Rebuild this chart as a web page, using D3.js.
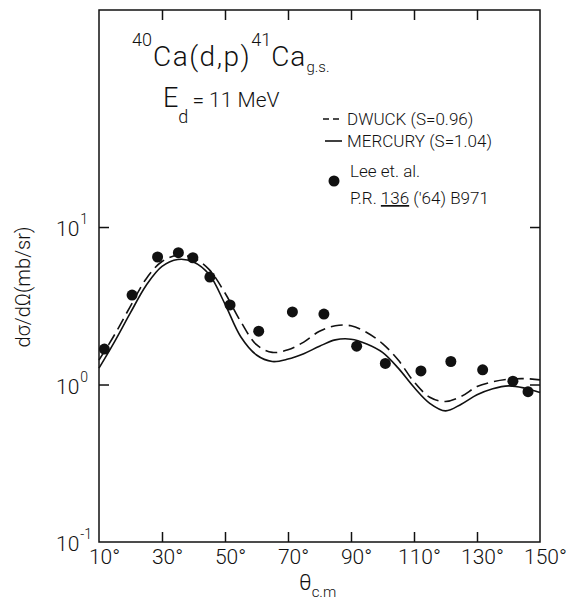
<!DOCTYPE html>
<html>
<head>
<meta charset="utf-8">
<script src="https://cdn.jsdelivr.net/npm/d3@7/dist/d3.min.js"></script>
<style>
  body { margin: 0; background: #fff; }
  svg text { font-family: Roboto, "DejaVu Sans", sans-serif; font-weight: 300; fill: #111; }
</style>
</head>
<body>
<div id="chart"></div>
<script>
// data: theta (deg c.m.) and dsigma/dOmega (mb/sr)
var expTheta = [11.7, 20.5, 28.6, 35.2, 39.8, 45.2, 51.6, 60.7, 71.4, 81.4, 91.8, 100.9, 112.2, 121.7, 131.8, 141.4, 146.2];
var expSigma = [1.68, 3.70, 6.45, 6.87, 6.38, 4.81, 3.20, 2.18, 2.89, 2.80, 1.75, 1.36, 1.22, 1.40, 1.24, 1.05, 0.90];

// calculated curves, read every 5 degrees
var curveTheta = [10, 15, 20, 25, 30, 35, 40, 45, 50, 55, 60, 65, 70, 75, 80, 85, 90, 95, 100, 105, 110, 115, 120, 125, 130, 135, 140, 145, 150];
var dwuckSigma = [1.43, 2.08, 3.15, 4.70, 6.04, 6.62, 6.36, 5.36, 3.81, 2.51, 1.79, 1.60, 1.66, 1.86, 2.18, 2.36, 2.36, 2.14, 1.82, 1.43, 1.04, 0.83, 0.78, 0.84, 0.97, 1.04, 1.08, 1.09, 1.07];
var mercSigma  = [1.27, 1.88, 2.86, 4.27, 5.62, 6.22, 6.00, 4.99, 3.24, 2.01, 1.54, 1.40, 1.45, 1.57, 1.75, 1.92, 1.94, 1.81, 1.60, 1.27, 0.96, 0.76, 0.68, 0.75, 0.86, 0.94, 0.98, 0.95, 0.89];

var xTicks = [10, 30, 50, 70, 90, 110, 130, 150];
var yTicks = [0.1, 1, 10];
var yTickExp = ["-1", "0", "1"];

var margin = {top: 10, right: 36, bottom: 59, left: 99},
    W = 576, H = 601;

var svg = d3.select("#chart").append("svg")
    .attr("width", W)
    .attr("height", H);

var x = d3.scaleLinear()
    .domain([10, 150])
    .range([margin.left, W - margin.right]);

var y = d3.scaleLog()
    .domain([0.1, Math.pow(10, 2.378)])
    .range([H - margin.bottom, margin.top]);

// frame
svg.append("rect")
    .attr("x", x(10))
    .attr("y", y.range()[1])
    .attr("width", x(150) - x(10))
    .attr("height", y.range()[0] - y.range()[1])
    .attr("fill", "none")
    .attr("stroke", "#111")
    .attr("stroke-width", 1.5);

// inner ticks, all four sides
var inner = xTicks.slice(1, -1);
svg.append("g")
    .attr("transform", "translate(0," + y.range()[0] + ")")
    .call(d3.axisBottom(x).tickValues(inner).tickSize(-10).tickFormat(""))
    .call(function(g) { g.select(".domain").remove(); });
svg.append("g")
    .attr("transform", "translate(0," + y.range()[1] + ")")
    .call(d3.axisTop(x).tickValues(inner).tickSize(-10).tickFormat(""))
    .call(function(g) { g.select(".domain").remove(); });
svg.append("g")
    .attr("transform", "translate(" + x(10) + ",0)")
    .call(d3.axisLeft(y).tickValues([1, 10]).tickSize(-10).tickFormat(""))
    .call(function(g) { g.select(".domain").remove(); });
svg.append("g")
    .attr("transform", "translate(" + x(150) + ",0)")
    .call(d3.axisRight(y).tickValues([1, 10]).tickSize(-10).tickFormat(""))
    .call(function(g) { g.select(".domain").remove(); });
svg.selectAll(".tick line").attr("stroke", "#111").attr("stroke-width", 1.5);

// x tick labels
var xl = svg.append("g")
    .attr("transform", "translate(0," + (y.range()[0] + 7) + ")")
    .call(d3.axisBottom(x).tickValues(xTicks).tickSize(0).tickPadding(0)
        .tickFormat(function(d) { return d + "\u00b0"; }));
xl.select(".domain").remove();
xl.selectAll("text")
    .attr("dx", 5)
    .style("font-size", "21px")
    .style("font-family", "Roboto, sans-serif")
    .style("font-weight", 300)
    .attr("fill", "#111");

// y tick labels: 10 with exponent
var yl = svg.append("g");
yTicks.forEach(function(v, i) {
  var t = yl.append("text")
      .attr("x", 56)
      .attr("y", y(v) + 9)
      .style("font-size", "21px");
  t.append("tspan").text("10");
  t.append("tspan")
      .attr("dy", -12)
      .attr("dx", 1)
      .style("font-size", "14px")
      .text(yTickExp[i]);
});

// axis titles
svg.append("text")
    .attr("transform", "translate(30,287) rotate(-90)")
    .attr("text-anchor", "middle")
    .style("font-size", "20px")
    .text("d\u03c3/d\u03a9(mb/sr)");

var xt = svg.append("text")
    .attr("x", 299)
    .attr("y", 590)
    .style("font-size", "22px");
xt.append("tspan").text("\u03b8");
xt.append("tspan").attr("dy", 7).style("font-size", "15px").text("c.m");

// curves
var line = d3.line()
    .x(function(d) { return x(d[0]); })
    .y(function(d) { return y(d[1]); })
    .curve(d3.curveCatmullRom.alpha(0.5));

svg.append("path")
    .datum(d3.zip(curveTheta, dwuckSigma))
    .attr("d", line)
    .attr("fill", "none")
    .attr("stroke", "#111")
    .attr("stroke-width", 1.6)
    .attr("stroke-dasharray", "12,6");

svg.append("path")
    .datum(d3.zip(curveTheta, mercSigma))
    .attr("d", line)
    .attr("fill", "none")
    .attr("stroke", "#111")
    .attr("stroke-width", 1.6);

// experimental points
svg.selectAll(".dot")
    .data(d3.zip(expTheta, expSigma))
    .enter().append("circle")
    .attr("class", "dot")
    .attr("cx", function(d) { return x(d[0]); })
    .attr("cy", function(d) { return y(d[1]); })
    .attr("r", 5.5)
    .attr("fill", "#111");

// reaction label
var title = svg.append("text")
    .attr("x", 132)
    .attr("y", 66)
    .style("font-size", "28px");
title.append("tspan").attr("dy", -20).style("font-size", "18px").text("40");
title.append("tspan").attr("dy", 20).attr("dx", 1).style("letter-spacing", "1.5px").text("Ca(d,p)");
title.append("tspan").attr("dy", -20).style("font-size", "18px").text("41");
title.append("tspan").attr("dy", 20).style("letter-spacing", "1px").text("Ca");
title.append("tspan").attr("dy", 6).style("font-size", "15px").text("g.s.");

var ed = svg.append("text")
    .attr("x", 163)
    .attr("y", 107)
    .style("font-size", "27px");
ed.append("tspan").text("E");
ed.append("tspan").attr("dy", 16).style("font-size", "18px").text("d");
ed.append("tspan").attr("dy", -16).attr("dx", 4).style("font-size", "21px").text("= 11 MeV");

// legend
svg.append("line")
    .attr("x1", 323).attr("x2", 343).attr("y1", 119).attr("y2", 119)
    .attr("stroke", "#111").attr("stroke-width", 1.6).attr("stroke-dasharray", "6,4");
svg.append("text").attr("x", 347).attr("y", 125).style("font-size", "17px").text("DWUCK (S=0.96)");
svg.append("line")
    .attr("x1", 325).attr("x2", 342).attr("y1", 141).attr("y2", 141)
    .attr("stroke", "#111").attr("stroke-width", 1.6);
svg.append("text").attr("x", 347).attr("y", 147).style("font-size", "17px").text("MERCURY (S=1.04)");
svg.append("circle").attr("cx", 334).attr("cy", 181).attr("r", 5.5).attr("fill", "#111");
svg.append("text").attr("x", 350).attr("y", 177).style("font-size", "17px").text("Lee  et. al.");
var ref = svg.append("text").attr("x", 350).attr("y", 204).style("font-size", "17px");
ref.append("tspan").text("P.R. ");
ref.append("tspan").attr("text-decoration", "underline").text("136");
ref.append("tspan").text(" ('64) B971");
</script>
</body>
</html>
